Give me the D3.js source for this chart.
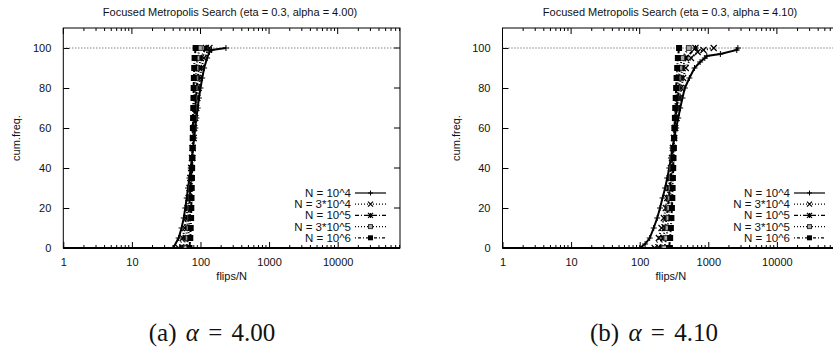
<!DOCTYPE html>
<html>
<head>
<meta charset="utf-8">
<script src="https://cdn.jsdelivr.net/npm/d3@7"></script>
<style>
  body { margin: 0; background: #fff; }
  text { font-family: "Liberation Sans", Arial, sans-serif; fill: #111; }
  .caption { font-family: "Liberation Serif", "DejaVu Serif", serif; }
</style>
</head>
<body>
<div id="chart"></div>
<script>
/* Two gnuplot-style panels: cumulative frequency of flips/N
   for Focused Metropolis Search, one panel per alpha. */

// Legend labels, one per problem size
var seriesNames = ["N = 10^4", "N = 3*10^4", "N = 10^5", "N = 3*10^5", "N = 10^6"];

// Tick labels
var xTickValues = [1, 10, 100, 1000, 10000];
var yTickValues = [0, 20, 40, 60, 80, 100];

// Panel (a): alpha = 4.00, pairs of [flips/N, cum.freq.]
var a_N1e4 = [[40,0],[48,5],[53,10],[57,15],[60,20],[63,25],[66,30],[69,35],[72,40],[75,45],[78,50],[81,55],[84,60],[87,65],[91,70],[95,75],[100,80],[106,85],[113,90],[125,95],[135,98],[145,99],[235,100]];
var a_N3e4 = [[48,0],[55,5],[59,10],[62,15],[65,20],[67,25],[69,30],[71,35],[73,40],[75,45],[77,50],[79,55],[81,60],[84,65],[87,70],[90,75],[94,80],[98,85],[103,90],[112,95],[135,100]];
var a_N1e5 = [[55,0],[61,5],[64,10],[66,15],[68,20],[70,25],[71,30],[73,35],[74,40],[76,45],[77,50],[79,55],[80,60],[82,65],[84,70],[86,75],[88,80],[91,85],[95,90],[101,95],[120,100]];
var a_N3e5 = [[62,0],[66,5],[68,10],[70,15],[71,20],[72,25],[73,30],[74,35],[75,40],[76,45],[77,50],[78,55],[79,60],[80,65],[81,70],[82,75],[84,80],[85,85],[87,90],[90,95],[98,100]];
var a_N1e6 = [[69,0],[71,5],[72,10],[73,15],[73.5,20],[74,25],[74.5,30],[75,35],[75.5,40],[76,45],[76.5,50],[77,55],[77.5,60],[78,65],[78.5,70],[79,75],[79.5,80],[80,85],[81,90],[82,95],[85,100]];

// Panel (b): alpha = 4.10
var b_N1e4 = [[100,0],[120,2],[140,5],[160,10],[180,15],[198,20],[215,25],[235,30],[252,35],[270,40],[285,45],[300,50],[320,55],[340,60],[365,65],[390,70],[420,75],[455,80],[530,85],[630,90],[760,93],[890,95],[950,96],[1500,97],[2600,99],[2700,100]];
var b_N3e4 = [[165,0],[190,5],[208,10],[225,15],[240,20],[252,25],[265,30],[275,35],[285,40],[295,45],[305,50],[317,55],[330,60],[345,65],[360,70],[380,75],[400,80],[430,85],[470,90],[560,95],[700,98],[850,99],[1200,100]];
var b_N1e5 = [[195,0],[220,5],[235,10],[246,15],[256,20],[266,25],[275,30],[284,35],[292,40],[300,45],[308,50],[316,55],[325,60],[334,65],[345,70],[358,75],[375,80],[395,85],[420,90],[470,95],[650,100]];
var b_N3e5 = [[228,0],[245,5],[255,10],[263,15],[270,20],[278,25],[285,30],[291,35],[297,40],[303,45],[310,50],[316,55],[322,60],[328,65],[335,70],[344,75],[355,80],[368,85],[385,90],[415,95],[520,100]];
var b_N1e6 = [[268,0],[278,5],[285,10],[290,15],[295,20],[299,25],[302,30],[305,35],[308,40],[311,45],[315,50],[318,55],[322,60],[326,65],[330,70],[335,75],[340,80],[345,85],[352,90],[360,95],[375,100]];

var width = 833;
var height = 350;
var fontSize = 11;

var svg = d3.select("#chart")
  .append("svg")
  .attr("width", width)
  .attr("height", height);

svg.append("rect").attr("width", width).attr("height", height).attr("fill", "#fff");

// line dash + marker style per series (gnuplot lt/pt 1..5)
var dashes = [null, "1,2", "4,2,1,2", "1,2", "1,2,3,2"];
var markers = ["plus", "cross", "star", "opensq", "fillsq"];

function drawMarker(g, type, x, y, s) {
  if (type === "plus") {
    g.append("path").attr("d", "M" + (x - s) + "," + y + "H" + (x + s) + "M" + x + "," + (y - s) + "V" + (y + s))
      .attr("stroke", "#000").attr("stroke-width", 1);
  } else if (type === "cross") {
    g.append("path").attr("d", "M" + (x - s) + "," + (y - s) + "L" + (x + s) + "," + (y + s) + "M" + (x - s) + "," + (y + s) + "L" + (x + s) + "," + (y - s))
      .attr("stroke", "#000").attr("stroke-width", 1.2);
  } else if (type === "star") {
    g.append("path").attr("d", "M" + (x - s) + "," + y + "H" + (x + s) + "M" + x + "," + (y - s) + "V" + (y + s) +
      "M" + (x - s) + "," + (y - s) + "L" + (x + s) + "," + (y + s) + "M" + (x - s) + "," + (y + s) + "L" + (x + s) + "," + (y - s))
      .attr("stroke", "#000").attr("stroke-width", 1.2);
  } else if (type === "opensq") {
    g.append("rect").attr("x", x - s * 0.8).attr("y", y - s * 0.8).attr("width", s * 1.6).attr("height", s * 1.6)
      .attr("fill", "#aaa").attr("stroke", "#333").attr("stroke-width", 1);
  } else {
    g.append("rect").attr("x", x - s).attr("y", y - s).attr("width", 2 * s).attr("height", 2 * s)
      .attr("fill", "#000");
  }
}

function drawPanel(cfg) {
  var g = svg.append("g");

  var xScale = d3.scaleLog().domain([1, 81000]).range([cfg.left, cfg.left + 336.7]);
  var yScale = d3.scaleLinear().domain([0, 110]).range([248, 28]);
  var x0 = xScale.range()[0], x1 = xScale.range()[1];
  var y0 = yScale(0), yTop = yScale(110);

  // clip for the curves
  var clipId = "clip" + cfg.id;
  svg.append("clipPath").attr("id", clipId)
    .append("rect").attr("x", x0).attr("y", yTop).attr("width", x1 - x0).attr("height", y0 - yTop);

  // title
  g.append("text")
    .attr("x", cfg.titleX).attr("y", 16)
    .attr("text-anchor", "middle").attr("font-size", fontSize)
    .text(cfg.title);

  // minor + major x ticks, inside, mirrored on top
  var minor = [];
  for (var e = 0; e < 5; e++) {
    for (var m = 2; m < 10; m++) {
      var v = m * Math.pow(10, e);
      if (v < 81000) minor.push(v);
    }
  }
  minor.forEach(function(v) {
    var px = xScale(v);
    g.append("line").attr("x1", px).attr("x2", px).attr("y1", y0).attr("y2", y0 - 3).attr("stroke", "#000");
    g.append("line").attr("x1", px).attr("x2", px).attr("y1", yTop).attr("y2", yTop + 3).attr("stroke", "#000");
  });

  var xAxis = d3.axisBottom(xScale).tickValues(xTickValues).tickSize(-6).tickPadding(10)
    .tickFormat(d3.format("d"));
  var xAx = g.append("g").attr("transform", "translate(0," + y0 + ")").call(xAxis);
  xAx.select(".domain").remove();
  xAx.selectAll("text").attr("font-size", fontSize).attr("fill", "#111").style("font-family", "Liberation Sans, Arial, sans-serif");
  xTickValues.forEach(function(v) {
    g.append("line").attr("x1", xScale(v)).attr("x2", xScale(v)).attr("y1", yTop).attr("y2", yTop + 6).attr("stroke", "#000");
  });

  var yAxis = d3.axisLeft(yScale).tickValues(yTickValues).tickSize(-6).tickPadding(12);
  var yAx = g.append("g").attr("transform", "translate(" + x0 + ",0)").call(yAxis);
  yAx.select(".domain").remove();
  yAx.selectAll("text").attr("font-size", fontSize).attr("fill", "#111").style("font-family", "Liberation Sans, Arial, sans-serif");
  yTickValues.forEach(function(v) {
    g.append("line").attr("x1", x1).attr("x2", x1 - 6).attr("y1", yScale(v)).attr("y2", yScale(v)).attr("stroke", "#000");
  });

  // frame
  g.append("rect").attr("x", x0).attr("y", yTop).attr("width", x1 - x0).attr("height", y0 - yTop)
    .attr("fill", "none").attr("stroke", "#000").attr("stroke-width", 1);
  g.append("line").attr("x1", x0).attr("x2", x1).attr("y1", y0).attr("y2", y0)
    .attr("stroke", "#000").attr("stroke-width", 2);

  // axis labels
  g.append("text").attr("x", (x0 + x1) / 2).attr("y", 280)
    .attr("text-anchor", "middle").attr("font-size", fontSize).text("flips/N");
  g.append("text")
    .attr("transform", "translate(" + (x0 - 43) + "," + ((y0 + yTop) / 2) + ")rotate(-90)")
    .attr("text-anchor", "middle").attr("font-size", fontSize).text("cum.freq.");

  // 100 % reference line
  g.append("line").attr("x1", x0).attr("x2", x1).attr("y1", yScale(100)).attr("y2", yScale(100))
    .attr("stroke", "#444").attr("stroke-dasharray", "1,2");

  var line = d3.line()
    .x(function(d) { return xScale(d[0]); })
    .y(function(d) { return yScale(d[1]); });

  var plot = g.append("g").attr("clip-path", "url(#" + clipId + ")");
  cfg.series.forEach(function(data, i) {
    plot.append("path").datum(data).attr("d", line)
      .attr("fill", "none").attr("stroke", "#000").attr("stroke-width", 2)
      .attr("stroke-dasharray", dashes[i]);
    data.forEach(function(d) {
      drawMarker(plot, markers[i], xScale(d[0]), yScale(d[1]), 3);
    });
  });

  // legend
  var legRight = cfg.legendX;
  seriesNames.forEach(function(name, i) {
    var ly = 193 + i * 11.2;
    g.append("text").attr("x", legRight).attr("y", ly + 4)
      .attr("text-anchor", "end").attr("font-size", 11.5).text(name);
    g.append("line").attr("x1", legRight + 4).attr("x2", legRight + 35)
      .attr("y1", ly).attr("y2", ly)
      .attr("stroke", "#000").attr("stroke-width", 1.2).attr("stroke-dasharray", dashes[i]);
    drawMarker(g, markers[i], legRight + 19.5, ly, 2.5);
  });

  // caption under the panel
  var cap = svg.append("text").attr("class", "caption")
    .attr("x", cfg.capX).attr("y", 341)
    .attr("text-anchor", "middle").attr("font-size", 25)
    .style("word-spacing", "3px");
  cap.append("tspan").text(cfg.capLetter + " ");
  cap.append("tspan").attr("font-style", "italic").text("α");
  cap.append("tspan").text(" = " + cfg.capValue);
}

drawPanel({
  id: "a", left: 63.3, titleX: 230, legendX: 351,
  title: "Focused Metropolis Search (eta = 0.3, alpha = 4.00)",
  series: [a_N1e4, a_N3e4, a_N1e5, a_N3e5, a_N1e6],
  capX: 212, capLetter: "(a)", capValue: "4.00"
});

drawPanel({
  id: "b", left: 502.5, titleX: 670, legendX: 790,
  title: "Focused Metropolis Search (eta = 0.3, alpha = 4.10)",
  series: [b_N1e4, b_N3e4, b_N1e5, b_N3e5, b_N1e6],
  capX: 654, capLetter: "(b)", capValue: "4.10"
});
</script>
</body>
</html>
